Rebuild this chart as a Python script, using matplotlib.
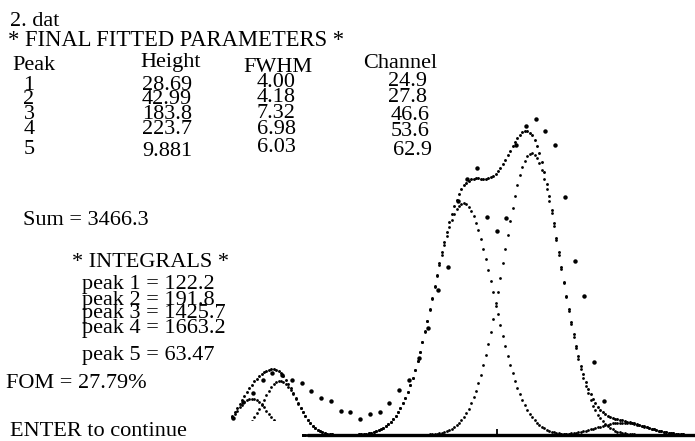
import numpy as np
import matplotlib
matplotlib.use("Agg")
import matplotlib.pyplot as plt
from matplotlib.patches import Rectangle

# ---- fitted parameters (from the printed table) ----
peak_ids = [1, 2, 3, 4, 5]
heights = [28.69, 42.99, 183.8, 223.7, 9.881]
fwhms = [4.00, 4.18, 7.32, 6.98, 6.03]
centers = [24.9, 27.8, 46.6, 53.6, 62.9]
height_labels = ["28.69", "42.99", "183.8", "223.7", "9.881"]
fwhm_labels = ["4.00", "4.18", "7.32", "6.98", "6.03"]
channel_labels = ["24.9", "27.8", "46.6", "53.6", "62.9"]
integral_labels = ["122.2", "191.8", "1425.7", "1663.2", "63.47"]
sum_label = "3466.3"
fom_label = "27.79%"

data_channels = list(range(23, 62))
data_counts = [13.5, 26, 33, 44, 49, 48, 43.7, 41.3, 34.9, 29.4, 27, 19, 18.3,
               12.7, 16.7, 18.3, 25.4, 35.7, 43.7, 61, 85, 115, 133, 186, 203,
               212, 173, 162, 172, 230, 245, 251, 241, 230, 189, 138, 110, 58, 27]

W, H = 695, 441
fig = plt.figure(figsize=(W / 100, H / 100), dpi=100)
fig.patch.set_facecolor("white")

# pixel mapping: x = 9 + 9.75*channel ; y = 435 - 1.26*counts
ax = fig.add_axes([0, 0, 1, 1])
ax.set_xlim((0 - 9) / 9.75, (W - 9) / 9.75)
ax.set_ylim((435 - H) / 1.26, 435 / 1.26)
ax.set_facecolor("none")
for s in ["top", "left", "right"]:
    ax.spines[s].set_visible(False)
ax.spines["bottom"].set_position(("data", 0))
ax.spines["bottom"].set_bounds(30.8, (W - 9) / 9.75)
ax.spines["bottom"].set_linewidth(2.4)
ax.set_xticks([50])
ax.tick_params(axis="x", direction="in", length=4, width=1.3, labelbottom=False)
ax.set_yticks([])

# fitted component curves, drawn as dotted point plots
xs = np.arange(22.9, 70.5, 0.25)
total = np.zeros_like(xs)
for h, fw, c in zip(heights, fwhms, centers):
    sig = fw / (2 * np.sqrt(2 * np.log(2)))
    g = h * np.exp(-0.5 * ((xs - c) / sig) ** 2)
    total += g
    ax.plot(xs, g, ls="none", marker="o", ms=2.0, mew=0, color="black")
ax.plot(xs, total, ls="none", marker="o", ms=2.1, mew=0, color="black")

# measured data
ax.plot(data_channels, data_counts, ls="none", marker="o", ms=3.2, mew=0,
        color="black")

# blank area under the text block (as in the screen dump)
fig.patches.append(Rectangle((0, 0), 302 / W, 20 / H, transform=fig.transFigure,
                             facecolor="white", edgecolor="none", zorder=1))

FONT = "Liberation Serif"
FS = 16


def txt(x, y, s, size=FS, ha="left"):
    fig.text(x / W, 1 - y / H, s, fontfamily=FONT, fontsize=size, ha=ha,
             va="baseline", color="black", zorder=3)


txt(10, 26, "2. dat")
txt(8, 46, "* FINAL FITTED PARAMETERS *", size=16.3)
txt(12, 70, "Peak")
txt(140, 67, "Height")
txt(243, 71.5, "FWHM")
txt(363, 68, "Channel")

peak_y = [90, 104.5, 119, 134, 154.5]
height_y = [89.5, 104.5, 119, 133.5, 155.5]
fwhm_y = [87, 102, 118.5, 134, 152.5]
chan_y = [86, 101.5, 120, 136.5, 155]
chan_x = [388, 388, 391, 391, 393]
for i in range(5):
    txt(29, peak_y[i], str(peak_ids[i]), ha="center")
    txt(142, height_y[i], height_labels[i])
    txt(257, fwhm_y[i], fwhm_labels[i])
    txt(chan_x[i], chan_y[i], channel_labels[i])

txt(23, 225, "Sum = " + sum_label)
txt(72, 267, "* INTEGRALS *")
int_y = [289, 305, 318, 333, 360]
for i in range(5):
    txt(82, int_y[i], f"peak {peak_ids[i]} = {integral_labels[i]}")
txt(6, 388, "FOM = " + fom_label)
txt(10, 436, "ENTER to continue")

fig.savefig("out.png", dpi=100, facecolor="white")
